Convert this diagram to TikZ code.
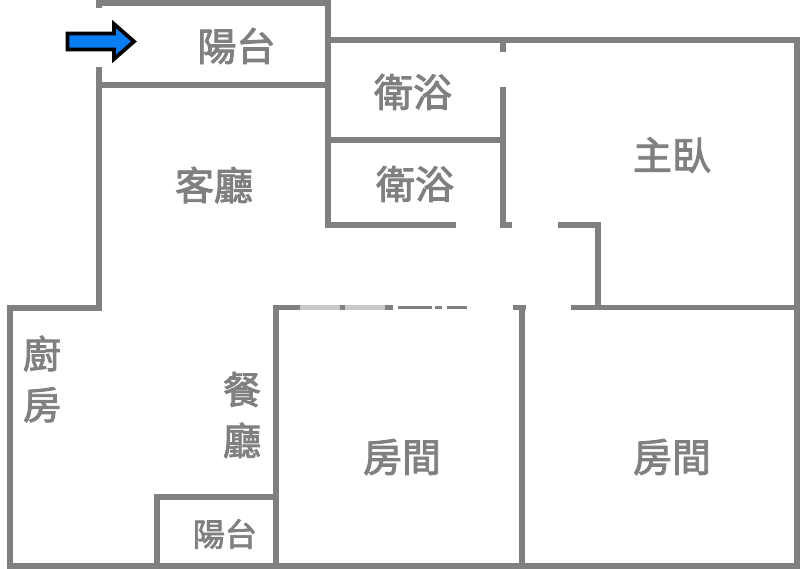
\documentclass[tikz,border=0pt]{standalone}
\usepackage{fontspec}
\newfontfamily\cjk{Noto Sans CJK TC}[FakeBold=2.4]
\definecolor{wallgray}{HTML}{808080}
\definecolor{fadegray}{HTML}{C8C8C8}
\definecolor{arrowblue}{HTML}{0A7DF0}
\tikzset{
  wall/.style={draw=wallgray,line width=5.4pt,line cap=butt,line join=miter},
  thinwall/.style={draw=wallgray,line width=3pt},
  fadewall/.style={draw=fadegray,line width=5pt},
  room/.style={text=wallgray,inner sep=0pt,font=\cjk\fontsize{39}{39}\selectfont},
  roomsmall/.style={text=wallgray,inner sep=0pt,font=\cjk\fontsize{32}{32}\selectfont},
  stacked/.style={room,align=center,font=\cjk\fontsize{38}{51}\selectfont}
}
\begin{document}
\begin{tikzpicture}[x=1pt,y=-1pt]
\useasboundingbox (0,0) rectangle (800,569);
\fill[white] (0,0) rectangle (800,569);
% outer and balcony walls
\draw[wall] (99,8) -- (99,3) -- (328,3) -- (328,225) -- (456,225);
\draw[wall] (99,67) -- (99,308) -- (10,308) -- (10,566) -- (797,566) -- (797,40) -- (328,40);
\draw[wall] (99,85) -- (328,85);
\draw[wall] (328,140) -- (503,140);
\draw[wall] (503,40) -- (503,52);
\draw[wall] (503,87) -- (503,225) -- (512,225);
\draw[wall] (558,225) -- (598,225) -- (598,307);
\draw[wall] (571,307.5) -- (797,307.5);
\draw[wall] (513,307.5) -- (526,307.5);
\draw[wall] (522,307) -- (522,566);
\draw[wall] (276,566) -- (276,307.5) -- (300,307.5);
\draw[wall] (157,566) -- (157,497) -- (276,497);
% fragmentary wall under the watermark
\draw[fadewall] (300,307.5) -- (385,307.5);
\draw[wall] (340,307.5) -- (345,307.5);
\draw[wall] (385,307.5) -- (393,307.5);
\draw[thinwall] (398,307.5) -- (432,307.5);
\draw[thinwall] (435,307.5) -- (442,307.5);
\draw[thinwall] (447,307.5) -- (467,307.5);
% entrance arrow
\draw[fill=arrowblue,draw=black,line width=3.8pt,line join=miter]
  (67.5,33.5) -- (114,33.5) -- (114,24) -- (134,41.5) -- (114,59) -- (114,49.5) -- (67.5,49.5) -- cycle;
% labels
\node[room] (balconyA) at (236.5,46) {陽台};
\node[room] (bathA) at (413,92) {衛浴};
\node[room] (bathB) at (415,184) {衛浴};
\node[room] (living) at (214,185) {客廳};
\node[room] (master) at (672,155) {主臥};
\node[stacked] (kitchen) at (42,379) {廚\\房};
\node[stacked] (dining) at (242,415) {餐\\廳};
\node[room] (roomA) at (402,457) {房間};
\node[room] (roomB) at (672,457) {房間};
\node[roomsmall] (balconyB) at (225,534) {陽台};
\end{tikzpicture}
\end{document}
